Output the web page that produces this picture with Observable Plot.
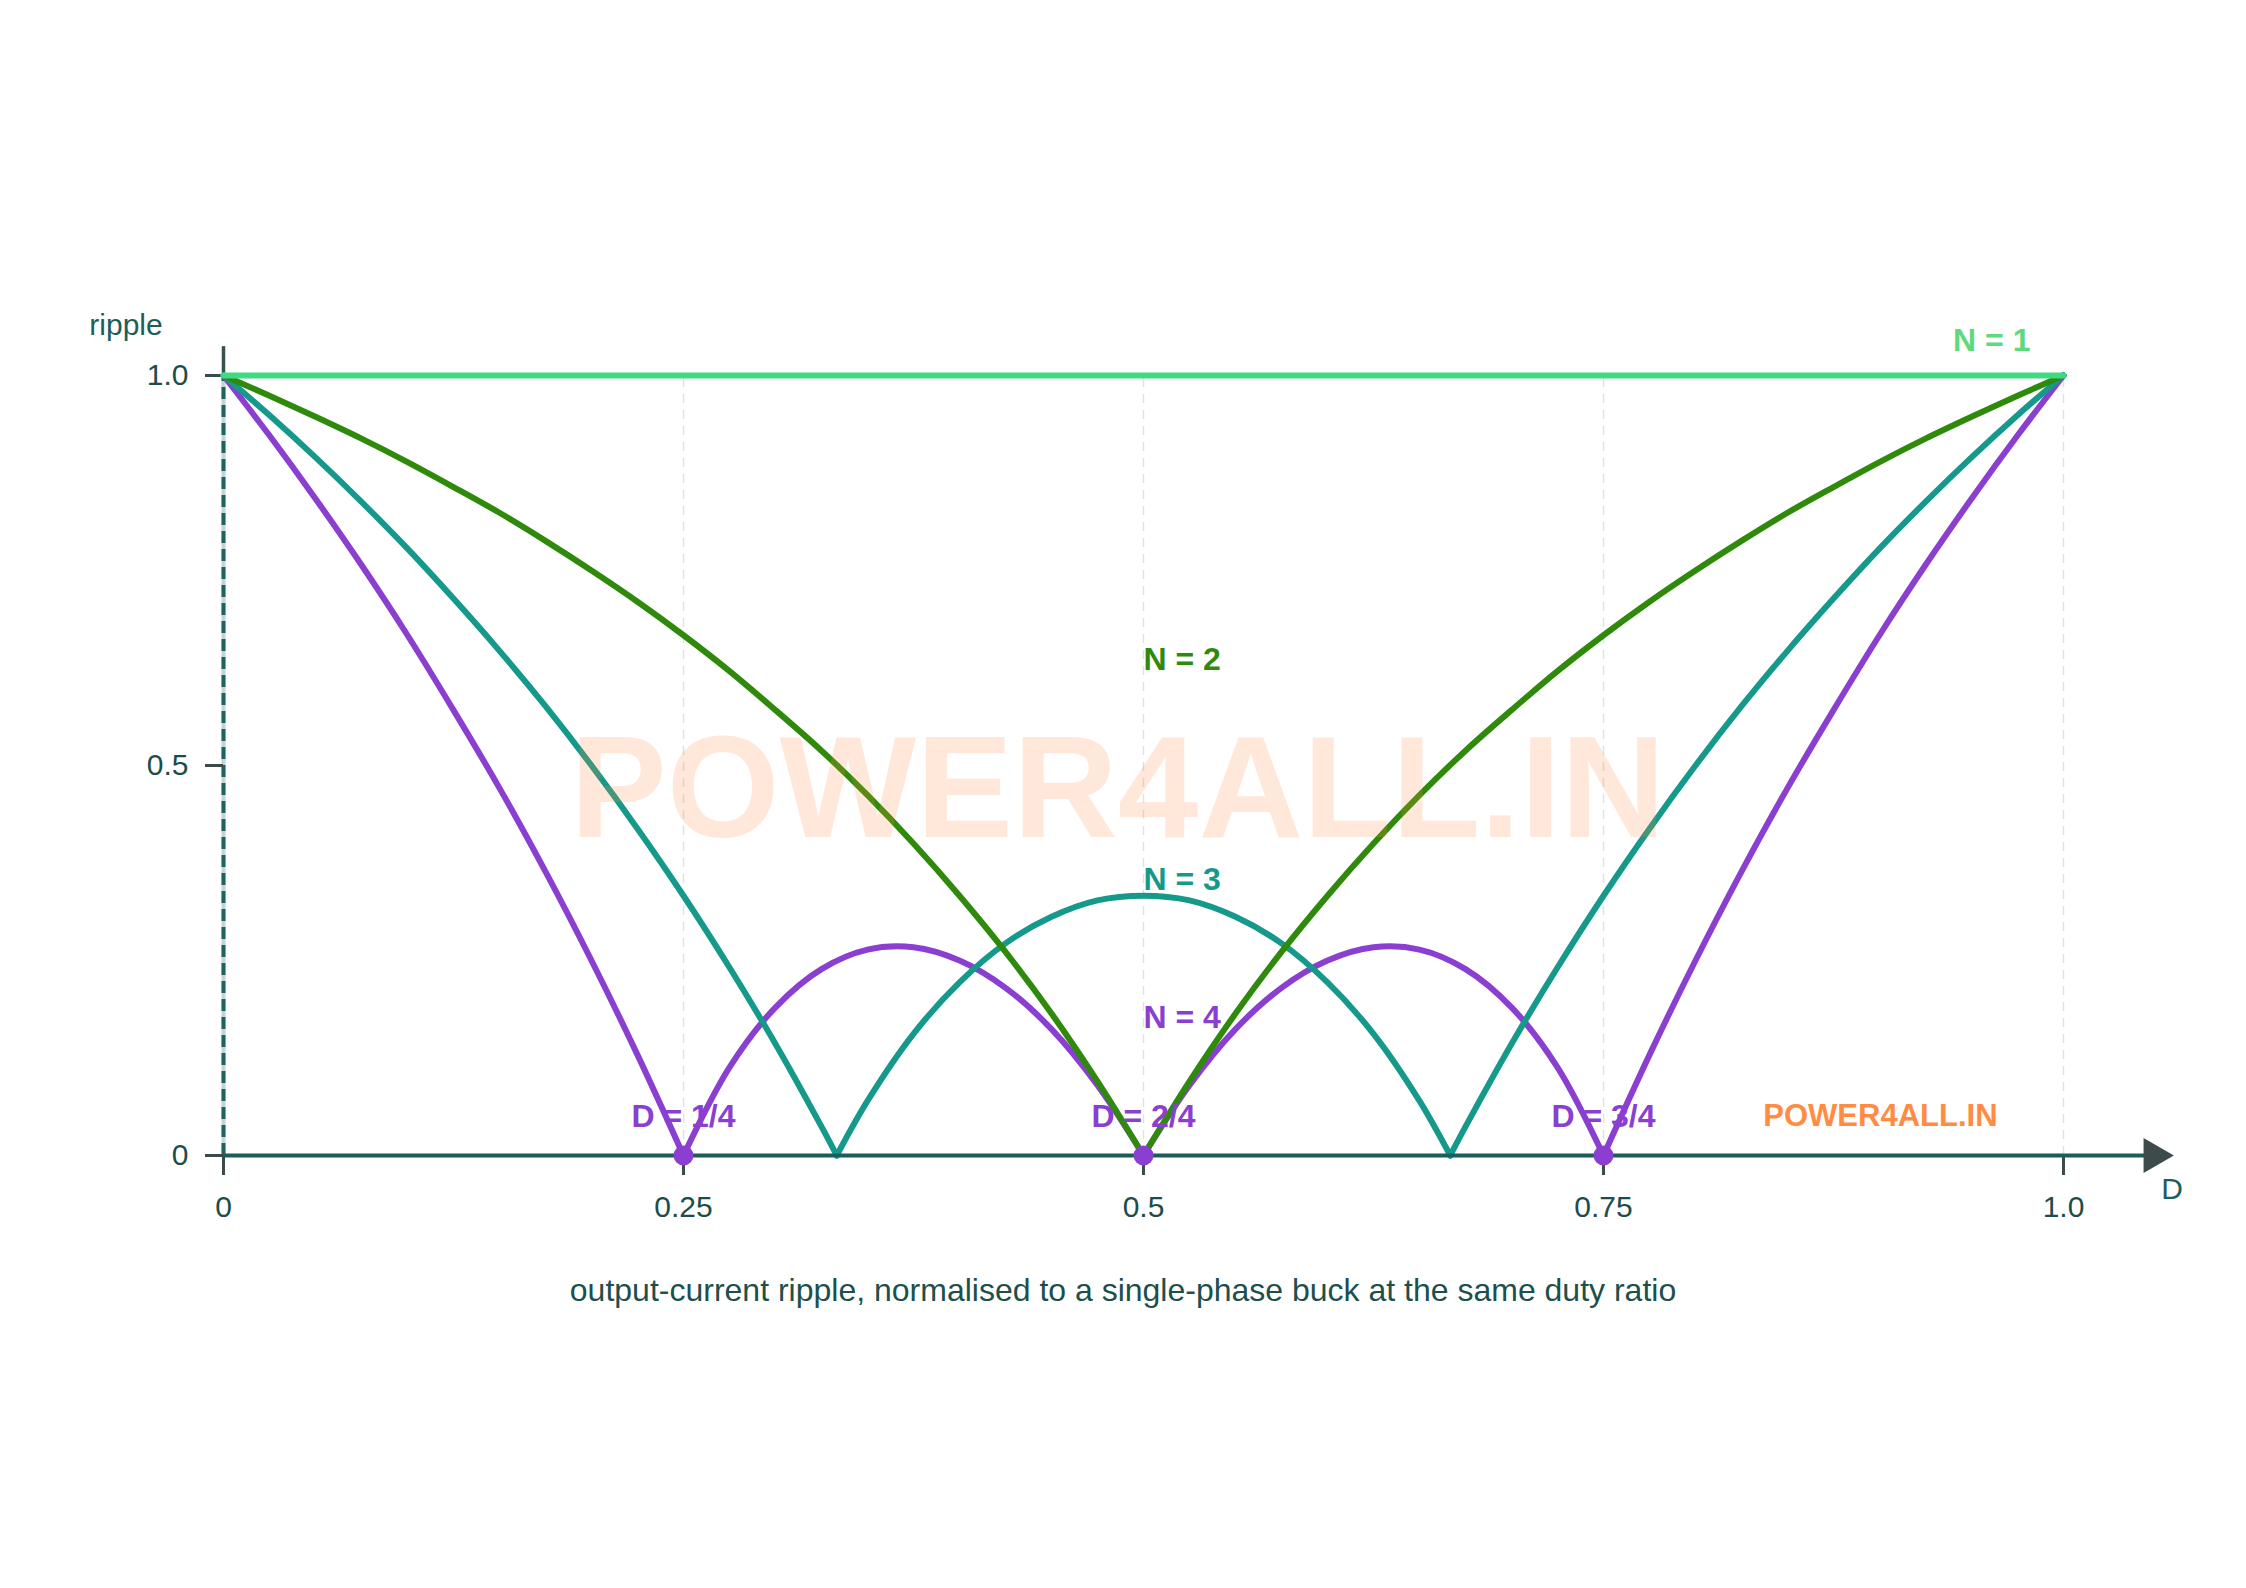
<!DOCTYPE html>
<html>
<head>
<meta charset="utf-8">
<script src="https://cdn.jsdelivr.net/npm/d3@7"></script>
<script src="https://cdn.jsdelivr.net/npm/@observablehq/plot@0.6"></script>
<style>
  html, body { margin: 0; padding: 0; background: #ffffff; }
  body { width: 2246px; height: 1588px; overflow: hidden; font-family: "Liberation Sans", Arial, sans-serif; }
  #caption { width: 2246px; text-align: center; font-size: 32px; line-height: 38px; padding-top: 21px; color: #1d4f4b; }
</style>
</head>
<body>
<div id="chart"></div>
<div id="caption">output-current ripple, normalised to a single-phase buck at the same duty ratio</div>
<script>
// ---- data ----
const D_grid = [0,0.025,0.05,0.075,0.1,0.125,0.15,0.175,0.2,0.225,0.25,0.275,0.3,0.325,0.35,0.375,0.4,0.425,0.45,0.475,0.5,
  0.525,0.55,0.575,0.6,0.625,0.65,0.675,0.7,0.725,0.75,0.775,0.8,0.825,0.85,0.875,0.9,0.925,0.95,0.975,1];
const ripple_N1 = [1,1,1,1,1,1,1,1,1,1,1,1,1,1,1,1,1,1,1,1,1,1,1,1,1,1,1,1,1,1,1,1,1,1,1,1,1,1,1,1,1];
const ripple_N2 = [1,0.974,0.947,0.919,0.889,0.857,0.824,0.788,0.75,0.71,0.667,0.621,0.571,0.519,0.462,0.4,0.333,0.261,0.182,0.095,0,
  0.095,0.182,0.261,0.333,0.4,0.462,0.519,0.571,0.621,0.667,0.71,0.75,0.788,0.824,0.857,0.889,0.919,0.947,0.974,1];
const D_N3 = [0,0.025,0.05,0.075,0.1,0.125,0.15,0.175,0.2,0.225,0.25,0.275,0.3,0.325,0.3333,0.35,0.375,0.4,0.425,0.45,0.475,0.5,
  0.525,0.55,0.575,0.6,0.625,0.65,0.6667,0.675,0.7,0.725,0.75,0.775,0.8,0.825,0.85,0.875,0.9,0.925,0.95,0.975,1];
const ripple_N3 = [1,0.949,0.895,0.838,0.778,0.714,0.647,0.576,0.5,0.419,0.333,0.241,0.143,0.037,0,0.07,0.156,0.222,0.272,0.306,0.327,0.333,
  0.327,0.306,0.272,0.222,0.156,0.07,0,0.037,0.143,0.241,0.333,0.419,0.5,0.576,0.647,0.714,0.778,0.838,0.895,0.949,1];
const ripple_N4 = [1,0.923,0.842,0.757,0.667,0.571,0.471,0.364,0.25,0.129,0,0.113,0.19,0.239,0.264,0.267,0.25,0.215,0.162,0.09,0,
  0.09,0.162,0.215,0.25,0.267,0.264,0.239,0.19,0.113,0,0.129,0.25,0.364,0.471,0.571,0.667,0.757,0.842,0.923,1];
const zeroMarks = [0.25, 0.5, 0.75];
const zeroLabels = ["D = 1/4", "D = 2/4", "D = 3/4"];
const xTicks = [0, 0.25, 0.5, 0.75, 1];
const yTicks = [0, 0.5, 1];
const labelN1 = [{text: "N = 1", D: 0.961, r: 1.044, color: "#5ed97c"}];
const labelsMid = [
  {text: "N = 2", D: 0.5, r: 0.635, color: "#2f8a0c"},
  {text: "N = 3", D: 0.5, r: 0.353, color: "#14998a"},
  {text: "N = 4", D: 0.5, r: 0.176, color: "#8a3fd1"}
];

const C = {N1: "#3ddc84", N2: "#2f8a0c", N3: "#14998a", N4: "#8a3fd1"};

// split a series into arcs at its zero cusps
function arcs(series, Ds, vals) {
  const out = []; let arc = 0;
  Ds.forEach((d, i) => {
    out.push({series, arc, D: d, r: vals[i]});
    if (vals[i] === 0 && i > 0 && i < Ds.length - 1) { arc++; out.push({series, arc, D: d, r: vals[i]}); }
  });
  return out;
}
const s1 = arcs("N1", D_grid, ripple_N1);
const s2 = arcs("N2", D_grid, ripple_N2);
const s3 = arcs("N3", D_N3, ripple_N3);
const s4 = arcs("N4", D_grid, ripple_N4);

const font = "Liberation Sans, Arial, sans-serif";

const plot = Plot.plot({
  width: 2246,
  height: 1250,
  marginLeft: 223,
  marginRight: 183,
  marginTop: 375,
  marginBottom: 95,
  x: {domain: [0, 1]},
  y: {domain: [0, 1]},
  style: {fontFamily: font, color: "#1d4d4a", background: "#ffffff", overflow: "visible"},
  marks: [
    // grid
    Plot.ruleX([0.25, 0.5, 0.75, 1], {y1: 0, y2: 1, stroke: "#dde2e2", strokeWidth: 1.5, strokeDasharray: "9,7"}),
    // y axis line
    Plot.ruleX([0], {y1: 1, y2: 1.037, stroke: "#3b5050", strokeWidth: 3.5, clip: false}),
    Plot.ruleX([0], {y1: 0, y2: 1, stroke: "#c9d2d2", strokeWidth: 4}),
    Plot.ruleX([0], {y1: 0, y2: 1, stroke: "#1d6363", strokeWidth: 4, strokeDasharray: "12,6"}),
    Plot.axisY({ticks: yTicks, tickFormat: d => d === 0 ? "0" : d.toFixed(1), tickSize: 18, tickPadding: 17,
      fontSize: 30, stroke: "#3b4b4b", strokeWidth: 3, label: null}),
    Plot.axisX({ticks: xTicks, tickFormat: d => d === 0 ? "0" : (d === 1 ? "1.0" : String(d)), tickSize: 20, tickPadding: 20,
      fontSize: 30, stroke: "#3b4b4b", strokeWidth: 3, label: null}),
    // curves
    Plot.line(s4, {x: "D", y: "r", z: "arc", stroke: C.N4, strokeWidth: 6, curve: "catmull-rom"}),
    Plot.line(s3, {x: "D", y: "r", z: "arc", stroke: C.N3, strokeWidth: 6, curve: "catmull-rom"}),
    Plot.line(s2, {x: "D", y: "r", z: "arc", stroke: C.N2, strokeWidth: 6, curve: "catmull-rom"}),
    Plot.line(s1, {x: "D", y: "r", z: "arc", stroke: C.N1, strokeWidth: 6, curve: "catmull-rom"}),
    // x axis line with arrow
    Plot.ruleY([0], {x1: 0, x2: 1.045, stroke: "#1d5c5c", strokeWidth: 4, clip: false}),
    Plot.dot([{D: 1.049, r: 0}], {x: "D", y: "r", symbol: "triangle", rotate: 90, r: 13, fill: "#3d4b4b", stroke: "none"}),
    // zero points
    Plot.dot(zeroMarks, {x: d => d, y: 0, r: 10, fill: C.N4, stroke: "none"}),
    Plot.text(zeroMarks, {x: d => d, y: 0.05, text: (d, i) => zeroLabels[i], fill: C.N4, fontSize: 32, fontWeight: "bold"}),
    // series labels
    Plot.text(labelN1, {x: "D", y: "r", text: "text", fill: d => d.color, textAnchor: "middle", fontSize: 32, fontWeight: "bold"}),
    Plot.text(labelsMid, {x: "D", y: "r", text: "text", fill: d => d.color, textAnchor: "start", fontSize: 32, fontWeight: "bold"}),
    // axis titles
    Plot.text(["ripple"], {x: -0.053, y: 1.064, text: d => d, fontSize: 30, fill: "#1e5e5a"}),
    Plot.text(["D"], {x: 1.059, y: -0.044, text: d => d, fontSize: 30, fill: "#1e5e5a"}),
    // watermarks
    Plot.text(["POWER4ALL.IN"], {x: 0.9005, y: 0.05, text: d => d, fontSize: 31, fontWeight: "bold", fill: "#ff8c42"}),
    Plot.text(["POWER4ALL.IN"], {x: 0.486, y: 0.468, text: d => d, fontSize: 145, fontWeight: 900, fill: "#ff8c42", fillOpacity: 0.2})
  ]
});
document.getElementById("chart").appendChild(plot);
// letter-spacing for the small watermark
d3.select(plot).selectAll("text").filter(function() { return this.textContent === "POWER4ALL.IN" && this.getAttribute("font-size") == "31"; })
  .attr("letter-spacing", "2px");
</script>
</body>
</html>
